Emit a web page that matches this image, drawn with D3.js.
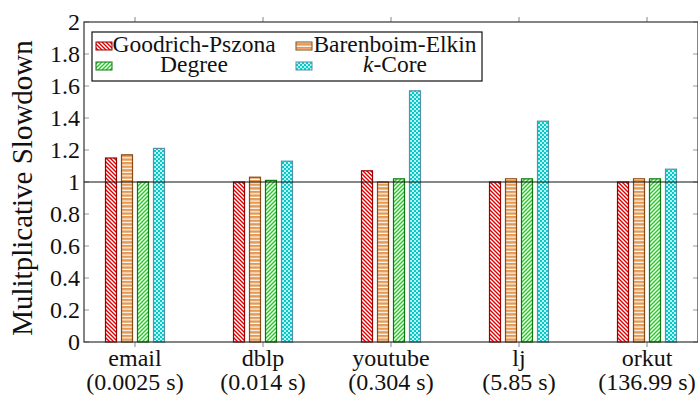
<!DOCTYPE html>
<html>
<head>
<meta charset="utf-8">
<script src="https://cdn.jsdelivr.net/npm/d3@7"></script>
<style>
  body { margin: 0; background: #fff; }
  #chart text { font-family: 'Liberation Serif', 'Times New Roman', Times, serif; fill: #111; }
</style>
</head>
<body>
<svg id="chart" width="698" height="398" style="font-family: 'Liberation Serif', 'Times New Roman', serif;"></svg>
<script>
// data
var categories = ["email", "dblp", "youtube", "lj", "orkut"];
var baseTimes = ["(0.0025 s)", "(0.014 s)", "(0.304 s)", "(5.85 s)", "(136.99 s)"];
var seriesNames = ["Goodrich-Pszona", "Barenboim-Elkin", "Degree", "k-Core"];
var goodrich = [1.15, 1.00, 1.07, 1.00, 1.00];
var barenboim = [1.17, 1.03, 1.00, 1.02, 1.02];
var degree = [1.00, 1.01, 1.02, 1.02, 1.02];
var kcore = [1.21, 1.13, 1.57, 1.38, 1.08];
var yTicks = [0, 0.2, 0.4, 0.6, 0.8, 1, 1.2, 1.4, 1.6, 1.8, 2];

var allSeries = [goodrich, barenboim, degree, kcore];

// plot frame
var plotL = 84, plotR = 698, plotT = 22, plotB = 342;
var serif = "'Liberation Serif', 'Times New Roman', Times, serif";

var svg = d3.select("#chart");
var defs = svg.append("defs");

// fill patterns
var p;
p = defs.append("pattern").attr("id", "pRed").attr("patternUnits", "userSpaceOnUse")
  .attr("width", 4).attr("height", 4);
p.append("rect").attr("width", 4).attr("height", 4).attr("fill", "#fff");
p.append("path").attr("d", "M-1,-1 L5,5 M-1,3 L1,5 M3,-1 L5,1")
  .attr("stroke", "#e00000").attr("stroke-width", 1.4);

p = defs.append("pattern").attr("id", "pOrange").attr("patternUnits", "userSpaceOnUse")
  .attr("width", 4).attr("height", 3.6);
p.append("rect").attr("width", 4).attr("height", 3.6).attr("fill", "#fff");
p.append("rect").attr("y", 0).attr("width", 4).attr("height", 2.4).attr("fill", "#e29a55");

p = defs.append("pattern").attr("id", "pGreen").attr("patternUnits", "userSpaceOnUse")
  .attr("width", 4).attr("height", 4);
p.append("rect").attr("width", 4).attr("height", 4).attr("fill", "#fff");
p.append("path").attr("d", "M-1,5 L5,-1 M-1,1 L1,-1 M3,5 L5,3")
  .attr("stroke", "#1fcc1f").attr("stroke-width", 1.4);

p = defs.append("pattern").attr("id", "pCyan").attr("patternUnits", "userSpaceOnUse")
  .attr("width", 4).attr("height", 4);
p.append("rect").attr("width", 4).attr("height", 4).attr("fill", "#bff2f2");
p.append("rect").attr("width", 2).attr("height", 2).attr("fill", "#00cccc");
p.append("rect").attr("x", 2).attr("y", 2).attr("width", 2).attr("height", 2).attr("fill", "#00cccc");

var fills = ["url(#pRed)", "url(#pOrange)", "url(#pGreen)", "url(#pCyan)"];
var strokes = ["#9a0000", "#8a4a12", "#117711", "#5a8fa5"];

// scales
var x = d3.scalePoint().domain(categories).range([135, 647]);
var y = d3.scaleLinear().domain([0, 2]).range([plotB, plotT]);
var barW = 11, barStep = 16;

// y ticks (inside, both sides)
svg.append("g").selectAll("line").data(yTicks).enter().append("line")
  .attr("x1", plotL).attr("x2", plotL + 5)
  .attr("y1", d => y(d)).attr("y2", d => y(d))
  .attr("stroke", "#999").attr("stroke-width", 1);
svg.append("g").selectAll("line").data(yTicks).enter().append("line")
  .attr("x1", plotR - 5).attr("x2", plotR)
  .attr("y1", d => y(d)).attr("y2", d => y(d))
  .attr("stroke", "#999").attr("stroke-width", 1);

// x ticks (outside, bottom and top)
svg.append("g").selectAll("line").data(categories).enter().append("line")
  .attr("x1", d => x(d)).attr("x2", d => x(d))
  .attr("y1", plotB).attr("y2", plotB + 5)
  .attr("stroke", "#999").attr("stroke-width", 1.2);
svg.append("g").selectAll("line").data(categories).enter().append("line")
  .attr("x1", d => x(d)).attr("x2", d => x(d))
  .attr("y1", plotT - 5).attr("y2", plotT)
  .attr("stroke", "#999").attr("stroke-width", 1.2);

// bars
allSeries.forEach(function(vals, si) {
  svg.append("g").selectAll("rect").data(vals).enter().append("rect")
    .attr("x", (d, i) => x(categories[i]) + (si - 1.5) * barStep - barW / 2)
    .attr("y", d => y(d))
    .attr("width", barW)
    .attr("height", d => y(0) - y(d))
    .attr("fill", fills[si])
    .attr("stroke", strokes[si])
    .attr("stroke-width", 1.2);
});

// reference line at 1
svg.append("line")
  .attr("x1", plotL).attr("x2", plotR)
  .attr("y1", y(1)).attr("y2", y(1))
  .attr("stroke", "#111").attr("stroke-width", 1.2);

// frame
svg.append("rect")
  .attr("x", plotL).attr("y", plotT)
  .attr("width", plotR - plotL).attr("height", plotB - plotT)
  .attr("fill", "none").attr("stroke", "#333").attr("stroke-width", 1.2);

// y tick labels
svg.append("g").selectAll("text").data(yTicks).enter().append("text")
  .attr("x", plotL - 4).attr("y", d => y(d) + 8)
  .attr("text-anchor", "end").style("font-family", serif).attr("font-size", 24)
  .text(d => d3.format("~g")(d));

// x labels
svg.append("g").selectAll("text").data(categories).enter().append("text")
  .attr("x", d => x(d)).attr("y", 366)
  .attr("text-anchor", "middle").style("font-family", serif).attr("font-size", 24)
  .text(d => d);
svg.append("g").selectAll("text").data(baseTimes).enter().append("text")
  .attr("x", (d, i) => x(categories[i])).attr("y", 390)
  .attr("text-anchor", "middle").style("font-family", serif).attr("font-size", 24)
  .text(d => d);

// y axis title
svg.append("text")
  .attr("transform", "translate(32,188) rotate(-90)")
  .attr("text-anchor", "middle").style("font-family", serif).attr("font-size", 29)
  .text("Mulitplicative Slowdown");

// legend
var lg = svg.append("g");
lg.append("rect")
  .attr("x", 92).attr("y", 32).attr("width", 390).attr("height", 49)
  .attr("fill", "#fff").attr("stroke", "#111").attr("stroke-width", 1.2);
var colText = [194, 395], colSw = [96, 296], rowY = [52, 72];
seriesNames.forEach(function(name, i) {
  var c = i % 2, r = Math.floor(i / 2);
  lg.append("rect")
    .attr("x", colSw[c]).attr("y", rowY[r] - 10)
    .attr("width", 16).attr("height", 8)
    .attr("fill", fills[i]).attr("stroke", strokes[i]).attr("stroke-width", 1);
  var t = lg.append("text")
    .attr("x", colText[c]).attr("y", rowY[r])
    .attr("text-anchor", "middle").style("font-family", serif).attr("font-size", 23.5);
  if (name === "k-Core") {
    t.append("tspan").attr("font-style", "italic").text("k");
    t.append("tspan").text("-Core");
  } else {
    t.text(name);
  }
});
</script>
</body>
</html>
